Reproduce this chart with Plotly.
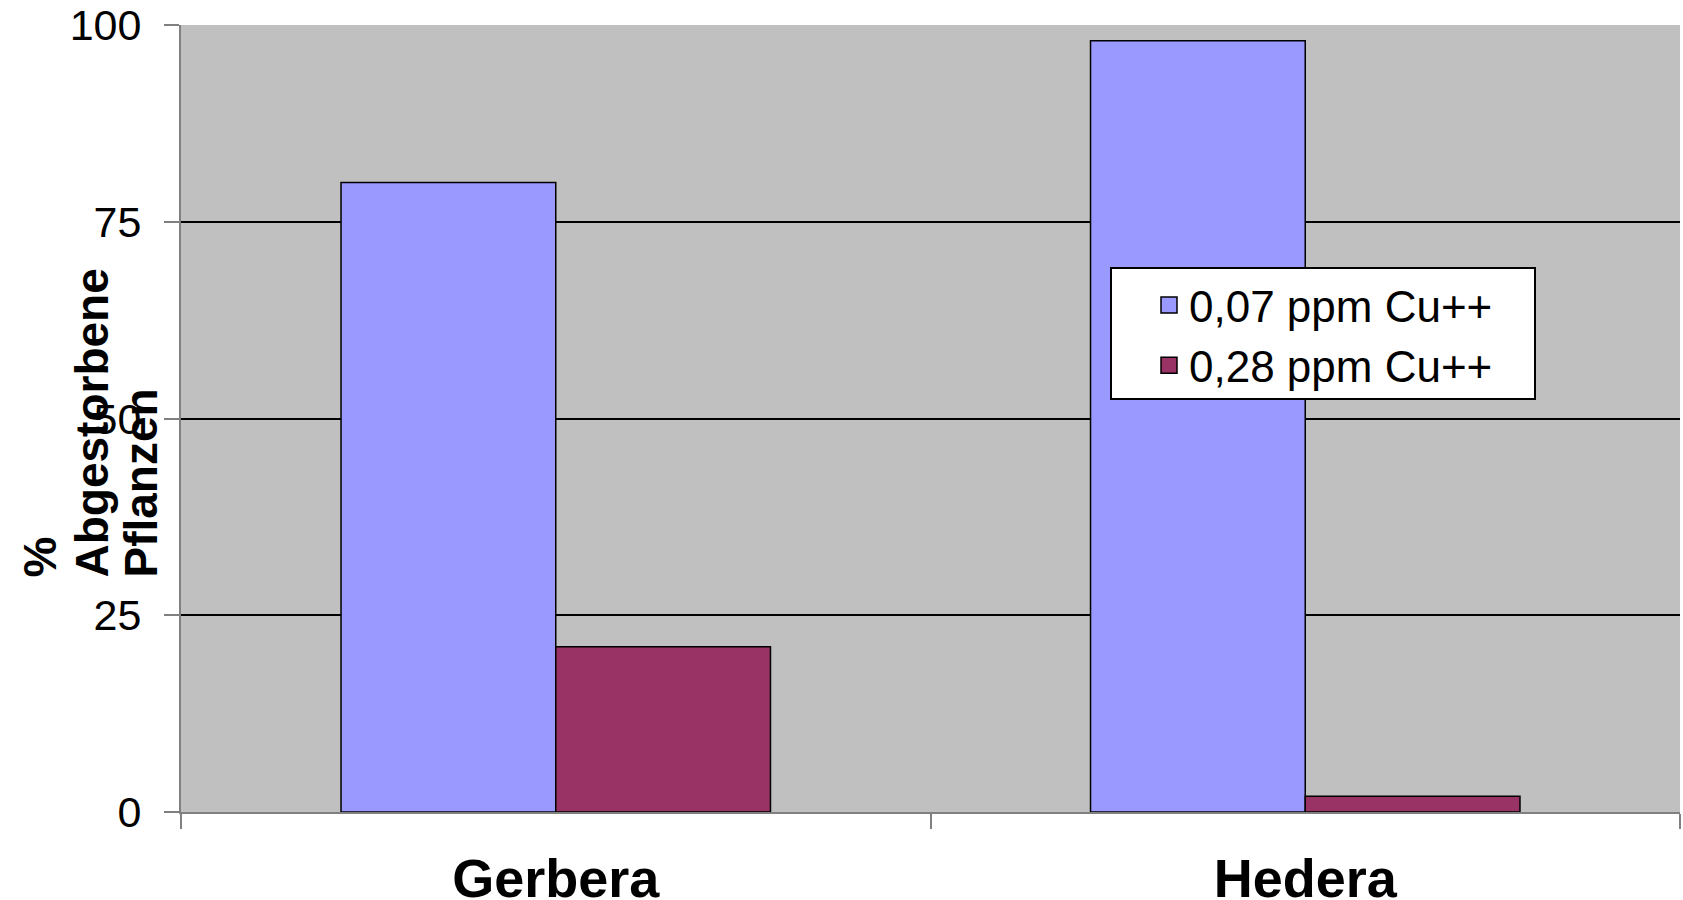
import plotly.graph_objects as go

# Daten
pflanzen = ["Gerbera", "Hedera"]
cu_007 = [80, 98]
cu_028 = [21, 2]
serien = ["0,07 ppm Cu++", "0,28 ppm Cu++"]
farben = ["#9999FF", "#993366"]
y_ticks = [0, 25, 50, 75, 100]

W, H = 1683, 900
ML, MR, MT, MB = 181, 3, 25, 88

# Plotfläche in Pixeln
P_L, P_R, P_T, P_B = ML, W - MR, MT, H - MB


def px_x(x):
    return (x - P_L) / (P_R - P_L)


def px_y(y):
    return (P_B - y) / (P_B - P_T)


fig = go.Figure()
for name, werte, farbe in zip(serien, [cu_007, cu_028], farben):
    fig.add_trace(go.Bar(x=pflanzen, y=werte, name=name, showlegend=False,
                         marker=dict(color=farbe, line=dict(color="black", width=1.5))))
    # Legendeneintrag mit größerem Quadrat
    fig.add_trace(go.Scatter(x=[None], y=[None], mode="markers", name=name,
                             marker=dict(symbol="square", size=16, color=farbe,
                                         line=dict(color="black", width=1.5))))

# Legendenrahmen
fig.add_shape(type="rect", xref="paper", yref="paper",
              x0=px_x(1111), x1=px_x(1535), y0=px_y(399), y1=px_y(268),
              fillcolor="white", line=dict(color="black", width=2), layer="above")

# y-Achsentitel, drei Zeilen
titel = [("%", 39), ("Abgestorbene", 91), ("Pflanzen", 140)]
for txt, xp in titel:
    fig.add_annotation(text=txt, x=px_x(xp), y=px_y(580), xref="paper", yref="paper",
                       xanchor="center", yanchor="bottom", textangle=-90, showarrow=False,
                       font=dict(family="Liberation Sans", size=46, color="black", weight="bold"))

fig.update_layout(
    width=W, height=H,
    margin=dict(l=ML, r=MR, t=MT, b=MB, autoexpand=False),
    paper_bgcolor="white",
    plot_bgcolor="#C0C0C0",
    barmode="group",
    bargap=0.427,
    bargroupgap=0,
    font=dict(family="Liberation Sans", color="black"),
    legend=dict(
        x=px_x(1149), y=px_y(270), xanchor="left", yanchor="top",
        bgcolor="rgba(0,0,0,0)", borderwidth=0,
        font=dict(size=44, family="Liberation Sans"),
        itemsizing="trace",
    ),
)
fig.update_xaxes(
    automargin=False,
    showline=True, linecolor="#808080", linewidth=2,
    ticks="outside", tickson="boundaries", ticklen=15, tickcolor="#808080", tickwidth=1.5,
    tickfont=dict(size=54, family="Liberation Sans", weight="bold"),
    ticklabelstandoff=18, ticklabeloverflow="allow",
    showgrid=False,
)
fig.update_yaxes(
    automargin=False,
    range=[0, 100], tickvals=y_ticks,
    showline=True, linecolor="#808080", linewidth=2,
    ticks="outside", ticklen=15, tickcolor="#808080", tickwidth=1.5,
    tickfont=dict(size=43, family="Liberation Sans"),
    ticklabelstandoff=14, ticklabeloverflow="allow",
    showgrid=True, gridcolor="black", gridwidth=1.5,
    zeroline=False,
)

fig.write_html("out.html", config={"displayModeBar": False},
               post_script="document.body.style.margin='0';")
